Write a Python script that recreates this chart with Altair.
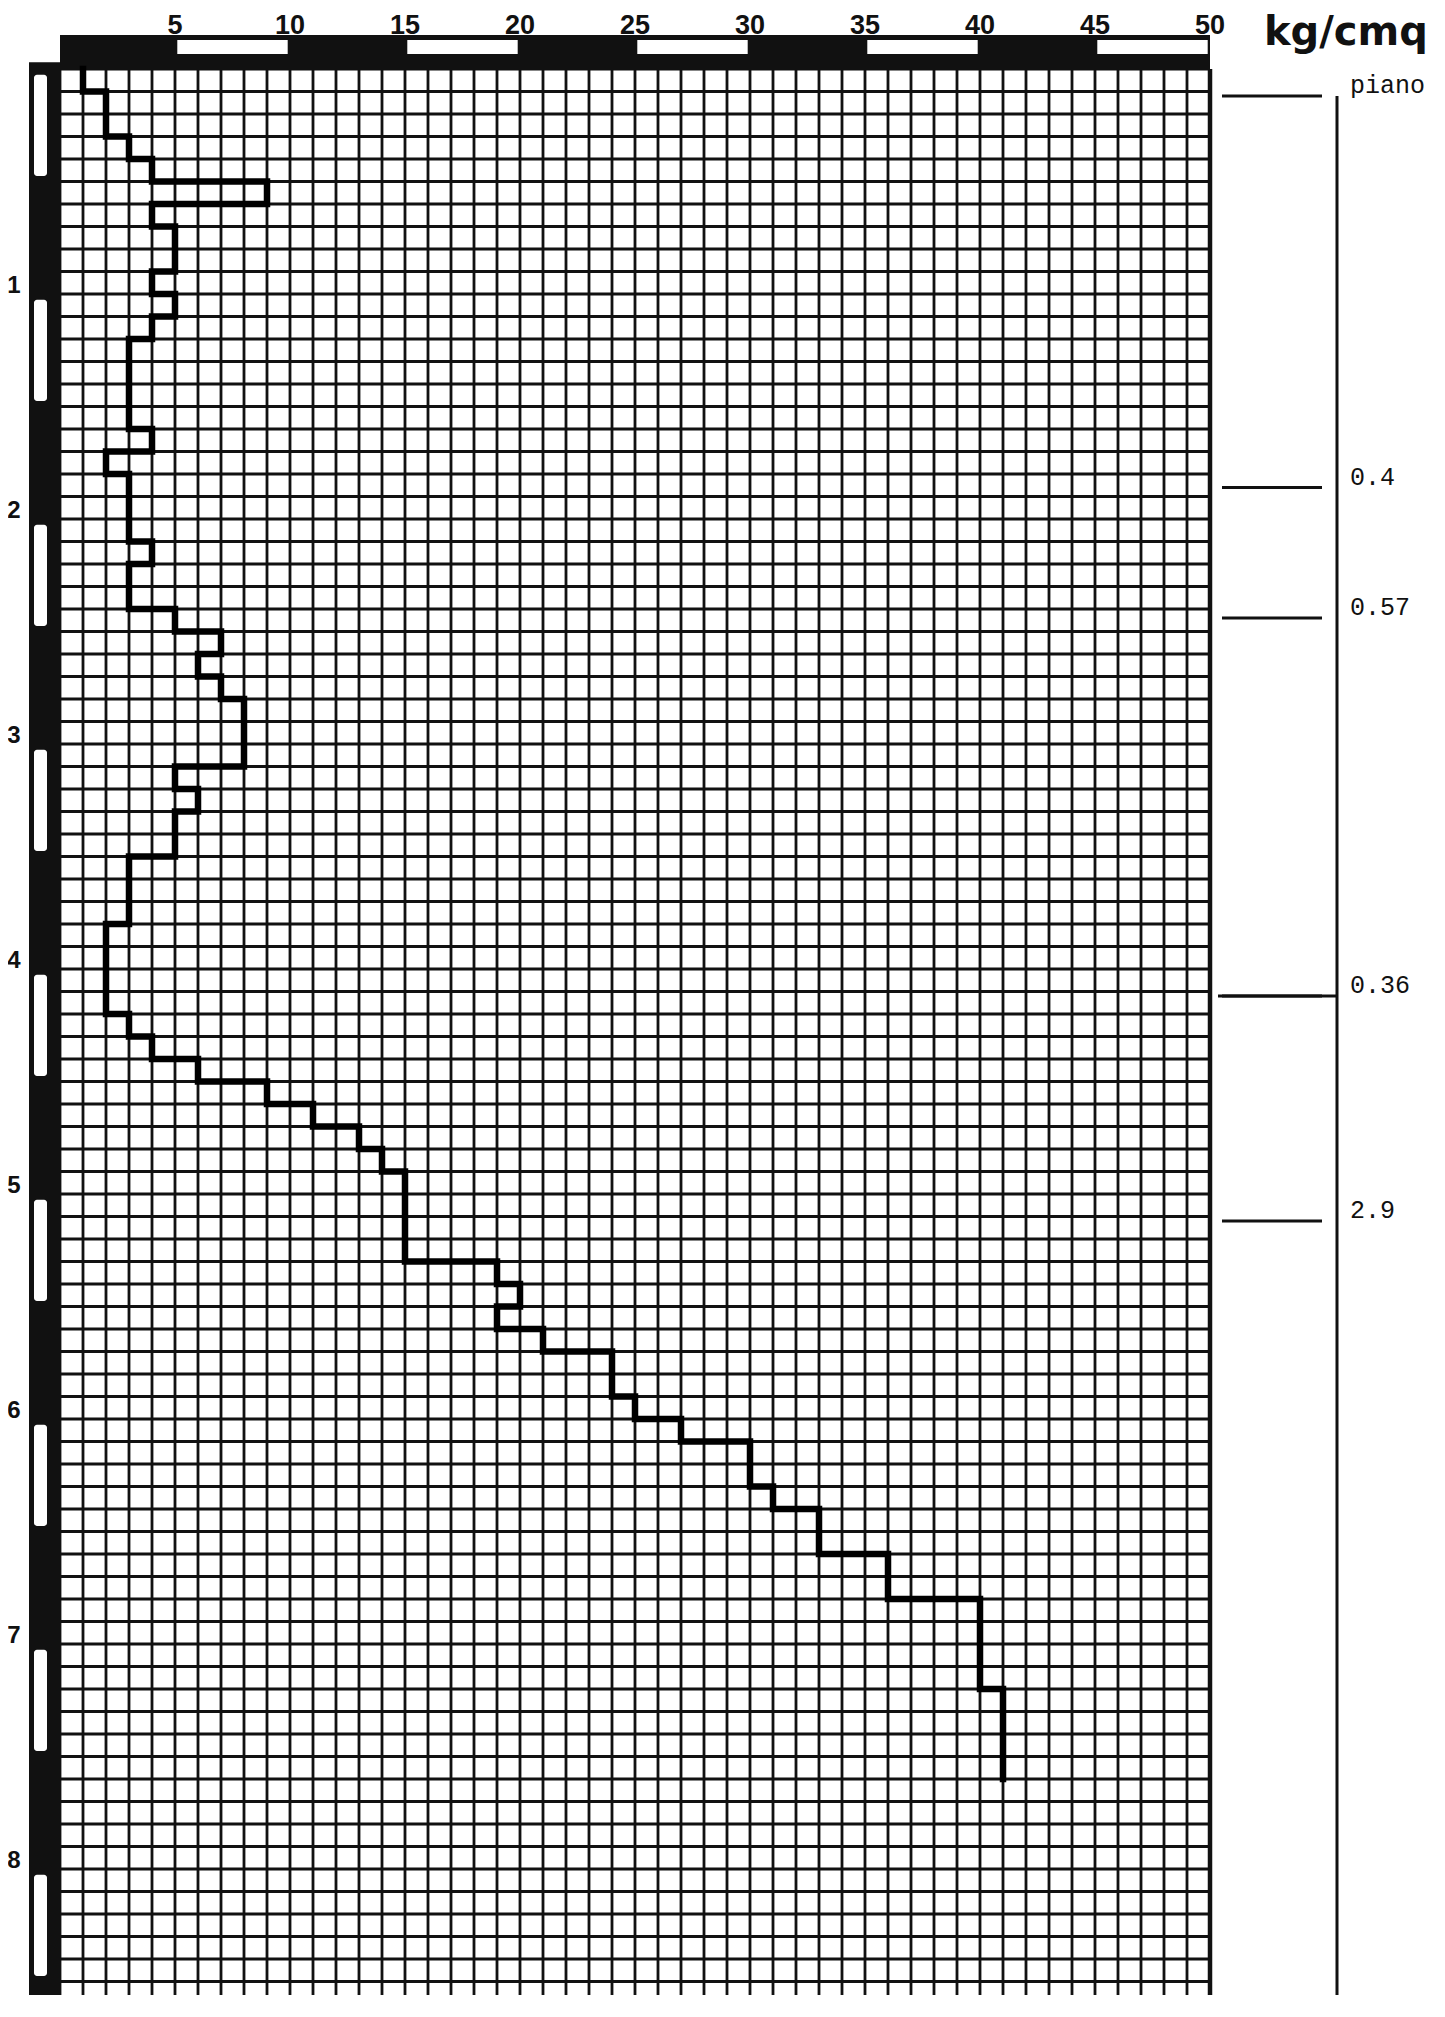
import altair as alt
import pandas as pd

# ---------------- data ----------------
# penetrometer step curve: depth (m) at which each reading starts, reading (kg/cm2)
depth_top = [0.0, 0.1, 0.3, 0.4, 0.5, 0.6, 0.7, 0.9, 1.0, 1.1, 1.2, 1.6, 1.7, 1.8, 2.1, 2.2,
             2.4, 2.5, 2.6, 2.7, 2.8, 3.1, 3.2, 3.3, 3.5, 3.8, 4.2, 4.3, 4.4, 4.5, 4.6, 4.7,
             4.8, 4.9, 5.3, 5.4, 5.5, 5.6, 5.7, 5.9, 6.0, 6.1, 6.3, 6.4, 6.6, 6.8, 7.2]
resistance = [1, 2, 3, 4, 9, 4, 5, 4, 5, 4, 3, 4, 2, 3, 4, 3,
              5, 7, 6, 7, 8, 5, 6, 5, 3, 2, 3, 4, 6, 9, 11, 13,
              14, 15, 19, 20, 19, 21, 24, 25, 27, 30, 31, 33, 36, 40, 41]
end_depth = 7.6

x_tick_labels = [5, 10, 15, 20, 25, 30, 35, 40, 45, 50]
top_white_segments = [5, 15, 25, 35, 45]          # white boxes of the top scale bar
depth_tick_labels = [1, 2, 3, 4, 5, 6, 7, 8]
left_white_segments = [0, 1, 2, 3, 4, 5, 6, 7, 8]  # white boxes of the depth bar
layer_depth = [0.12, 1.86, 2.44, 4.12, 5.12]
layer_label = ["piano", "0.4", "0.57", "0.36", "2.9"]
unit_label = "kg/cmq"

# ---------------- layout / style ----------------
W, H = 1150, 1926
PX_PER_M = 225.0
YMAX = H / PX_PER_M
XS = alt.Scale(domain=[0, 50], nice=False, zero=False)
YS = alt.Scale(domain=[0, YMAX], nice=False, zero=False, reverse=True)
INK = "#111111"

# ---------------- build tables from the arrays ----------------
pts = []
for i, (d, v) in enumerate(zip(depth_top, resistance)):
    d2 = depth_top[i + 1] if i + 1 < len(depth_top) else end_depth
    pts.append({"v": v, "d": d, "o": 2 * i})
    pts.append({"v": v, "d": d2, "o": 2 * i + 1})
curve_df = pd.DataFrame(pts)

grid_x = pd.DataFrame({"v": list(range(0, 51))})
grid_y = pd.DataFrame({"d": [round(0.1 * i, 1) for i in range(0, int(YMAX * 10) + 1)]})

top_bar_df = pd.DataFrame({"a": [0], "b": [50]})
top_white_df = pd.DataFrame({"a": [s + 0.1 for s in top_white_segments],
                             "b": [s + 4.9 for s in top_white_segments]})
xlab_df = pd.DataFrame({"v": x_tick_labels, "t": [str(t) for t in x_tick_labels]})

left_bar_df = pd.DataFrame({"d0": [-0.03], "d1": [YMAX]})
left_white_df = pd.DataFrame({"d0": [s + 0.025 for s in left_white_segments],
                              "d1": [s + 0.475 for s in left_white_segments]})
ylab_df = pd.DataFrame({"d": depth_tick_labels, "t": [str(t) for t in depth_tick_labels]})

layer_df = pd.DataFrame({"d": layer_depth, "t": layer_label})
vline_df = pd.DataFrame({"d0": [layer_depth[0]], "d1": [YMAX]})
one = pd.DataFrame({"t": [unit_label]})

# ---------------- layers ----------------
vgrid = alt.Chart(grid_x).mark_rule(color=INK, strokeWidth=2.8).encode(
    x=alt.X("v:Q", scale=XS, axis=None))
hgrid = alt.Chart(grid_y).mark_rule(color=INK, strokeWidth=2.8).encode(
    y=alt.Y("d:Q", scale=YS, axis=None))
right_border = alt.Chart(pd.DataFrame({"v": [50]})).mark_rule(color=INK, strokeWidth=4.5).encode(
    x=alt.X("v:Q", scale=XS, axis=None))

top_bar = alt.Chart(top_bar_df).mark_rect(color=INK).encode(
    x=alt.X("a:Q", scale=XS, axis=None), x2="b:Q",
    y=alt.value(-34), y2=alt.value(1))
top_white = alt.Chart(top_white_df).mark_rect(color="white").encode(
    x=alt.X("a:Q", scale=XS, axis=None), x2="b:Q",
    y=alt.value(-29), y2=alt.value(-15))
xlabels = alt.Chart(xlab_df).mark_text(
    font="Liberation Sans", fontWeight="bold", fontSize=27, color=INK,
    baseline="alphabetic", align="center").encode(
    x=alt.X("v:Q", scale=XS, axis=None), y=alt.value(-35), text="t:N")

left_bar = alt.Chart(left_bar_df).mark_rect(color=INK).encode(
    y=alt.Y("d0:Q", scale=YS, axis=None), y2="d1:Q",
    x=alt.value(-31), x2=alt.value(1))
left_white = alt.Chart(left_white_df).mark_rect(color="white", cornerRadius=3).encode(
    y=alt.Y("d0:Q", scale=YS, axis=None), y2="d1:Q",
    x=alt.value(-26), x2=alt.value(-13))
ylabels = alt.Chart(ylab_df).mark_text(
    font="Liberation Sans", fontWeight="bold", fontSize=24, color=INK,
    baseline="middle", align="center", dy=-8).encode(
    y=alt.Y("d:Q", scale=YS, axis=None), x=alt.value(-46), text="t:N")

curve = alt.Chart(curve_df).mark_line(
    color="black", strokeWidth=6.5, strokeJoin="miter", strokeCap="square").encode(
    x=alt.X("v:Q", scale=XS, axis=None),
    y=alt.Y("d:Q", scale=YS, axis=None),
    order=alt.Order("o:Q"))

unit = alt.Chart(one).mark_text(
    font="DejaVu Sans", fontWeight="bold", fontSize=40, color=INK,
    align="left", baseline="alphabetic").encode(
    x=alt.value(1204), y=alt.value(-24), text="t:N")

vline = alt.Chart(vline_df).mark_rule(color=INK, strokeWidth=3).encode(
    y=alt.Y("d0:Q", scale=YS, axis=None), y2="d1:Q", x=alt.value(1277))
hlines = alt.Chart(layer_df).mark_rule(color=INK, strokeWidth=3.2).encode(
    y=alt.Y("d:Q", scale=YS, axis=None), x=alt.value(1162), x2=alt.value(1262))
hline_long = alt.Chart(layer_df).transform_filter(
    alt.datum.t == "0.36").mark_rule(color=INK, strokeWidth=3.2).encode(
    y=alt.Y("d:Q", scale=YS, axis=None), x=alt.value(1158), x2=alt.value(1278))
layer_text = alt.Chart(layer_df).mark_text(
    font="Liberation Mono", fontSize=25, color=INK,
    align="left", baseline="middle", dy=-11).encode(
    y=alt.Y("d:Q", scale=YS, axis=None), x=alt.value(1290), text="t:N")

chart = alt.layer(
    vgrid, hgrid, right_border, top_bar, top_white, xlabels,
    left_bar, left_white, ylabels, curve, unit, vline, hlines, hline_long, layer_text
).properties(
    width=W, height=H,
    autosize=alt.AutoSizeParams(type="none"),
    padding={"left": 52, "top": 61, "right": 227, "bottom": 0},
    background="white",
).configure_view(stroke=None)

chart.save("out.html", embed_options={"renderer": "svg", "actions": False})
